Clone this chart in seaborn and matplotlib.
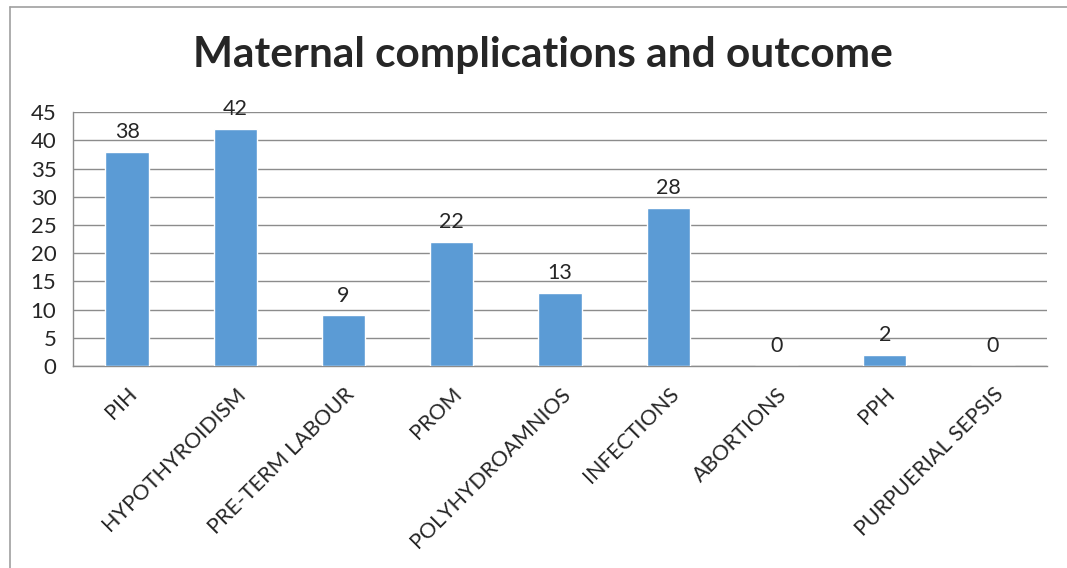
import numpy as np
import pandas as pd
import matplotlib.pyplot as plt
import seaborn as sns
from matplotlib.lines import Line2D

# values
categories = ['PIH', 'HYPOTHYROIDISM', 'PRE-TERM LABOUR', 'PROM', 'POLYHYDROAMNIOS',
              'INFECTIONS', 'ABORTIONS', 'PPH', 'PURPUERIAL SEPSIS']
counts = [38, 42, 9, 22, 13, 28, 0, 2, 0]
y_ticks = list(range(0, 50, 5))

df = pd.DataFrame({'complication': categories, 'count': counts})

sns.set_style('white')
plt.rcParams['font.family'] = ['Lato', 'DejaVu Sans']

grid_col = '#8c8c8c'
fig = plt.figure(figsize=(10.67, 5.68), dpi=100)
ax = fig.add_axes([0.0684, 0.3556, 0.913, 0.447])

sns.barplot(data=df, x='complication', y='count', color='#5b9bd5',
            width=0.4, saturation=1, ax=ax, zorder=3)

ax.set_ylim(0, 45)
ax.set_xlim(-0.5, len(categories) - 0.5)
ax.set_yticks(y_ticks)
ax.set_yticklabels([str(t) for t in y_ticks], fontsize=16)
ax.yaxis.grid(True, color=grid_col, linewidth=1, zorder=0)
ax.set_axisbelow(True)

# category labels, ticks sit between categories like Excel
ax.set_xticks(range(len(categories)))
ax.set_xticklabels(categories, rotation=45, ha='right', rotation_mode='anchor', fontsize=15.5)
ax.set_xticks(np.arange(-0.5, len(categories), 1), minor=True)
ax.tick_params(axis='x', which='major', length=0, pad=13)
ax.tick_params(axis='x', which='minor', length=7, color=grid_col, width=1)
ax.tick_params(axis='y', length=6, color=grid_col, width=1, pad=6)

for s in ['top', 'right']:
    ax.spines[s].set_visible(False)
for s in ['left', 'bottom']:
    ax.spines[s].set_color(grid_col)
    ax.spines[s].set_linewidth(1)

ax.set_xlabel('')
ax.set_ylabel('')

for i, v in enumerate(counts):
    ax.annotate(str(v), (i, v), xytext=(0, 7), textcoords='offset points',
                ha='center', va='bottom', fontsize=15.5)

fig.suptitle('Maternal complications and outcome', fontsize=30.5, fontweight='bold',
             y=0.936, x=0.509)

# chart area frame (top and left edges visible in the reference)
fig.add_artist(Line2D([0.0094, 1.0], [0.988, 0.988], color='#a0a0a0', lw=1.2,
                      transform=fig.transFigure))
fig.add_artist(Line2D([0.0094, 0.0094], [0.0, 0.988], color='#a0a0a0', lw=1.2,
                      transform=fig.transFigure))

fig.savefig('out.png', dpi=100)
